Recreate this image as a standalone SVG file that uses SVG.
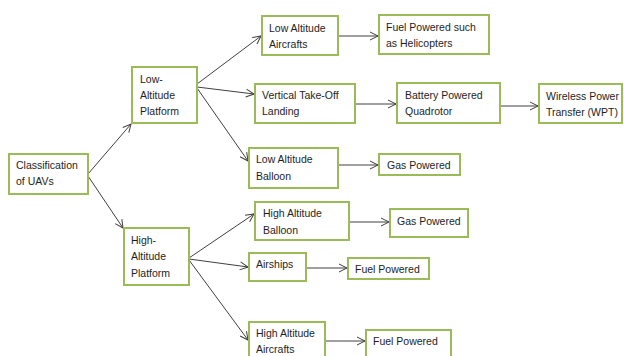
<svg xmlns="http://www.w3.org/2000/svg" width="624" height="356" viewBox="0 0 624 356">
<defs>
<style>
.box{fill:#fff;stroke:#9bbb59;stroke-width:2}
.t{font-family:"Liberation Sans",Arial,sans-serif;font-size:10.5px;fill:#1e1e1e}
.c{fill:none;stroke:#404040;stroke-width:1}
</style>
<marker id="ah" markerUnits="userSpaceOnUse" markerWidth="10" markerHeight="10" refX="8" refY="4" orient="auto" overflow="visible">
<path d="M0,0 L8,4 L0,8" fill="none" stroke="#404040" stroke-width="1"/>
</marker>
</defs>
<rect width="624" height="356" fill="#fff"/>
<g id="connectors">
<line class="c" x1="88" y1="174" x2="131" y2="124" marker-end="url(#ah)"/>
<line class="c" x1="88" y1="176" x2="123" y2="228" marker-end="url(#ah)"/>
<line class="c" x1="197" y1="84" x2="261" y2="36" marker-end="url(#ah)"/>
<line class="c" x1="197" y1="87" x2="254" y2="94" marker-end="url(#ah)"/>
<line class="c" x1="197" y1="88" x2="248" y2="161" marker-end="url(#ah)"/>
<line class="c" x1="338" y1="36" x2="378" y2="36" marker-end="url(#ah)"/>
<line class="c" x1="355" y1="104" x2="396" y2="104" marker-end="url(#ah)"/>
<line class="c" x1="500" y1="106" x2="538" y2="106" marker-end="url(#ah)"/>
<line class="c" x1="338" y1="165" x2="378" y2="165" marker-end="url(#ah)"/>
<line class="c" x1="189" y1="258" x2="254" y2="214" marker-end="url(#ah)"/>
<line class="c" x1="189" y1="259" x2="248" y2="267" marker-end="url(#ah)"/>
<line class="c" x1="189" y1="260" x2="248" y2="340" marker-end="url(#ah)"/>
<line class="c" x1="349" y1="222" x2="389" y2="222" marker-end="url(#ah)"/>
<line class="c" x1="306" y1="268" x2="347" y2="268" marker-end="url(#ah)"/>
<line class="c" x1="325" y1="341" x2="365" y2="341" marker-end="url(#ah)"/>
</g>
<g id="n-classification">
<rect class="box" x="9" y="154" width="79" height="40"/>
<text class="t" x="16" y="169">Classification</text>
<text class="t" x="16" y="185">of UAVs</text>
</g>
<g id="n-lap">
<rect class="box" x="132" y="67" width="65" height="56"/>
<text class="t" x="140" y="83">Low-</text>
<text class="t" x="140" y="99">Altitude</text>
<text class="t" x="140" y="115">Platform</text>
</g>
<g id="n-laa">
<rect class="box" x="262" y="16" width="76" height="39"/>
<text class="t" x="269" y="32">Low Altitude</text>
<text class="t" x="269" y="48">Aircrafts</text>
</g>
<g id="n-vtol">
<rect class="box" x="255" y="84" width="100" height="39"/>
<text class="t" x="262" y="99">Vertical Take-Off</text>
<text class="t" x="262" y="115">Landing</text>
</g>
<g id="n-lab">
<rect class="box" x="249" y="148" width="89" height="40"/>
<text class="t" x="256" y="163">Low Altitude</text>
<text class="t" x="256" y="180">Balloon</text>
</g>
<g id="n-fuel-heli">
<rect class="box" x="379" y="15" width="110" height="39"/>
<text class="t" x="386" y="31">Fuel Powered such</text>
<text class="t" x="386" y="47">as Helicopters</text>
</g>
<g id="n-battery">
<rect class="box" x="397" y="83" width="103" height="40"/>
<text class="t" x="405" y="99">Battery Powered</text>
<text class="t" x="405" y="115">Quadrotor</text>
</g>
<g id="n-wpt">
<rect class="box" x="539" y="84" width="83" height="39"/>
<text class="t" x="546" y="100">Wireless Power</text>
<text class="t" x="546" y="116">Transfer (WPT)</text>
</g>
<g id="n-gas1">
<rect class="box" x="379" y="154" width="81" height="21"/>
<text class="t" x="387" y="169">Gas Powered</text>
</g>
<g id="n-hap">
<rect class="box" x="124" y="228" width="65" height="57"/>
<text class="t" x="131" y="244">High-</text>
<text class="t" x="131" y="260">Altitude</text>
<text class="t" x="131" y="277">Platform</text>
</g>
<g id="n-hab">
<rect class="box" x="255" y="202" width="94" height="38"/>
<text class="t" x="263" y="217">High Altitude</text>
<text class="t" x="263" y="234">Balloon</text>
</g>
<g id="n-airships">
<rect class="box" x="249" y="253" width="57" height="28"/>
<text class="t" x="256" y="268">Airships</text>
</g>
<g id="n-haa">
<rect class="box" x="249" y="322" width="76" height="40"/>
<text class="t" x="256" y="337">High Altitude</text>
<text class="t" x="256" y="353">Aircrafts</text>
</g>
<g id="n-gas2">
<rect class="box" x="390" y="209" width="78" height="28"/>
<text class="t" x="397" y="225">Gas Powered</text>
</g>
<g id="n-fuel2">
<rect class="box" x="348" y="258" width="81" height="21"/>
<text class="t" x="355" y="273">Fuel Powered</text>
</g>
<g id="n-fuel3">
<rect class="box" x="366" y="330" width="85" height="30"/>
<text class="t" x="373" y="345">Fuel Powered</text>
</g>
</svg>
